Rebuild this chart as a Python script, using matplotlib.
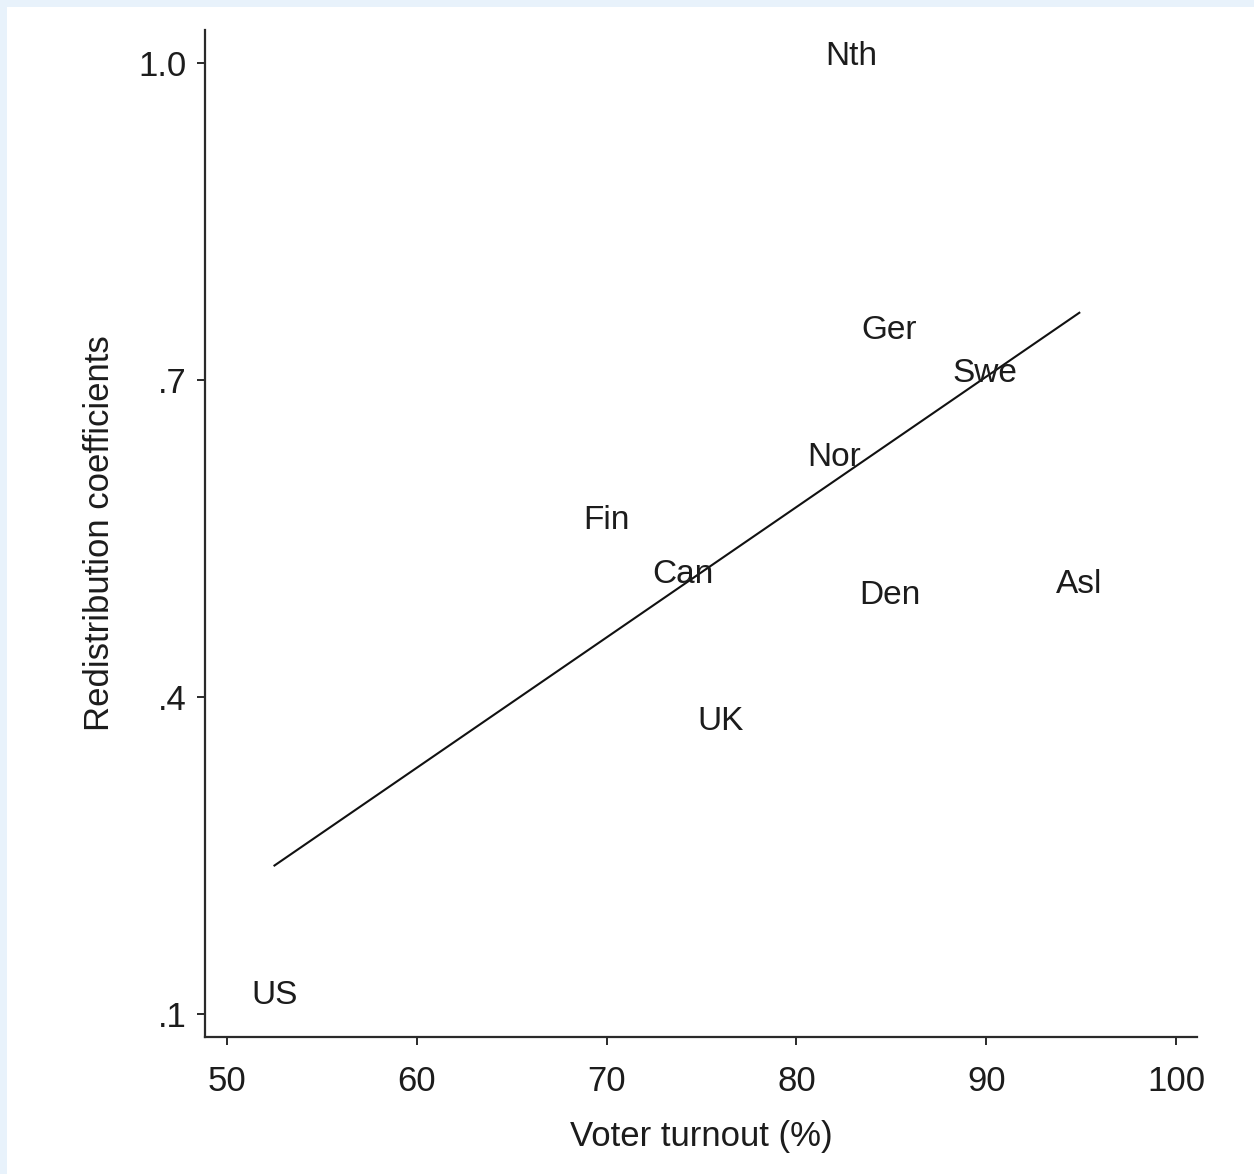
"""Redistribution coefficients against voter turnout, with country labels and a linear fit."""

import numpy as np
import matplotlib
matplotlib.use("Agg")
import matplotlib.pyplot as plt
from matplotlib.patches import Rectangle

countries = ["Nth", "Ger", "Swe", "Nor", "Fin", "Can", "Den", "Asl", "UK", "US"]
turnout = [82.9, 84.9, 89.9, 82.0, 70.0, 74.0, 84.9, 94.9, 76.0, 52.5]
redistribution = [1.009, 0.750, 0.709, 0.630, 0.570, 0.519, 0.499, 0.510, 0.380, 0.121]

x_ticks = [50, 60, 70, 80, 90, 100]
y_ticks = [0.1, 0.4, 0.7, 1.0]
y_tick_labels = [".1", ".4", ".7", "1.0"]

TEXT = "#1c1c1c"
SPINE = "#2a2a2a"


def main():
    plt.rcParams["font.family"] = ["Liberation Sans", "DejaVu Sans"]

    fig = plt.figure(figsize=(12.54, 11.74), dpi=100)
    fig.patch.set_facecolor("white")
    # thin light-blue frame along the left and top edges
    fig.patches.append(Rectangle((0, 0), 7 / 1254, 1, transform=fig.transFigure,
                                 facecolor="#e8f2fb", edgecolor="none"))
    fig.patches.append(Rectangle((0, 1 - 7 / 1174), 1, 7 / 1174, transform=fig.transFigure,
                                 facecolor="#e8f2fb", edgecolor="none"))

    ax = fig.add_axes([205 / 1254, 137 / 1174, 992 / 1254, 1007 / 1174])
    ax.set_xlim(48.84, 101.1)
    ax.set_ylim(0.078, 1.031)

    # country names stand in for the markers
    for name, x, y in zip(countries, turnout, redistribution):
        ax.text(x, y, name, ha="center", va="center_baseline", fontsize=24, color=TEXT)

    # least-squares fit over the observed turnout range
    slope, intercept = np.polyfit(turnout, redistribution, 1)
    fit_x = np.array([min(turnout), max(turnout)])
    ax.plot(fit_x, intercept + slope * fit_x, color="#111111", linewidth=1.5)

    for side in ["top", "right"]:
        ax.spines[side].set_visible(False)
    for side in ["left", "bottom"]:
        ax.spines[side].set_color(SPINE)
        ax.spines[side].set_linewidth(1.6)

    ax.set_xticks(x_ticks)
    ax.set_yticks(y_ticks)
    ax.set_yticklabels(y_tick_labels)
    ax.tick_params(axis="both", length=6, width=1.4, color=SPINE,
                   labelsize=25, labelcolor=TEXT)
    ax.tick_params(axis="x", pad=14)
    ax.tick_params(axis="y", pad=7)

    ax.set_xlabel("Voter turnout (%)", fontsize=25, color=TEXT, labelpad=16)
    ax.set_ylabel("Redistribution coefficients", fontsize=25, color=TEXT, labelpad=16)

    fig.savefig("out.png", dpi=100)


if __name__ == "__main__":
    main()
